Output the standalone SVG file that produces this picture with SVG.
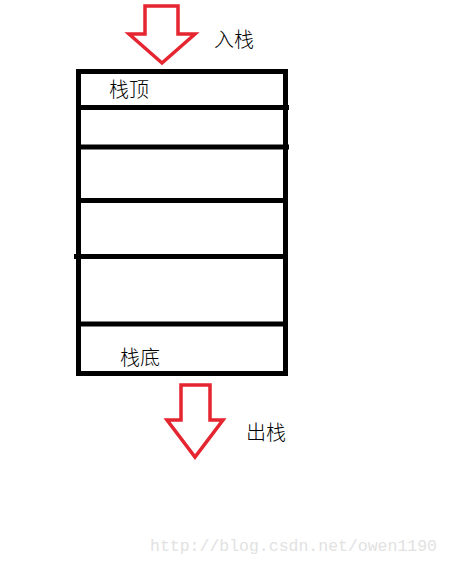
<svg xmlns="http://www.w3.org/2000/svg" width="450" height="563" viewBox="0 0 450 563">
<style>
.arrow{fill:none;stroke:#e52530;stroke-width:3.5;stroke-linejoin:miter}
.box{fill:none;stroke:#000;stroke-width:5}
.sep{stroke:#000;stroke-width:5}
.t{font-family:"Noto Sans CJK SC","Noto Sans CJK JP",sans-serif;font-size:20px;font-weight:300;fill:#000}
.wm{font-family:"Liberation Mono",monospace;font-size:16.5px;fill:#e2e2e2}
</style>
<rect width="450" height="563" fill="#fff"/>
<g id="push-arrow"><polygon class="arrow" points="145,6 178,6 178,34 195,34 162,63 129,34 145,34"/></g>
<g id="push-label"><text class="t" x="214" y="47">入栈</text></g>
<g id="stack">
<rect class="box" x="78.5" y="71.5" width="207" height="302"/>
<line class="sep" x1="78.5" y1="107.5" x2="289" y2="107.5"/>
<line class="sep" x1="78.5" y1="147" x2="289" y2="147"/>
<line class="sep" x1="78.5" y1="200.5" x2="285.5" y2="200.5"/>
<line class="sep" x1="74" y1="256.5" x2="285.5" y2="256.5"/>
<line class="sep" x1="78.5" y1="324" x2="285.5" y2="324"/>
<text class="t" x="109" y="97">栈顶</text>
<text class="t" x="120" y="365">栈底</text>
</g>
<g id="pop-arrow"><polygon class="arrow" points="181,385 210,385 210,420 223,420 195,457 167,420 181,420"/></g>
<g id="pop-label"><text class="t" x="246" y="440">出栈</text></g>
<g id="connectors"></g>
<text class="wm" x="150" y="551" textLength="287" lengthAdjust="spacingAndGlyphs">http://blog.csdn.net/owen1190</text>
</svg>
